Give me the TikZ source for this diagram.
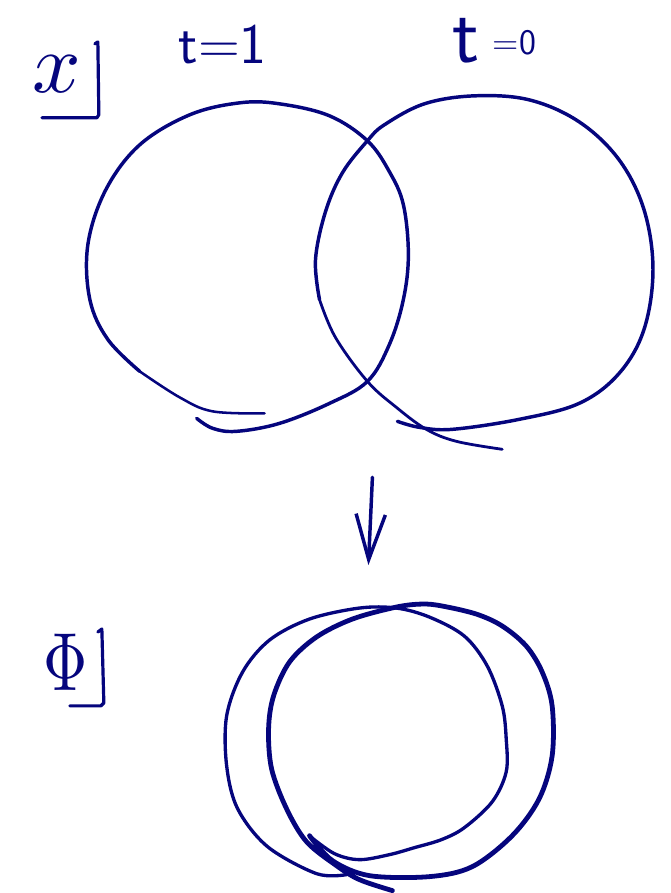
\documentclass[tikz,border=0pt]{standalone}
\usetikzlibrary{arrows.meta}
\definecolor{ink}{RGB}{5,5,125}
\begin{document}
\begin{tikzpicture}[x=0.75pt,y=-0.75pt,
  pen/.style={draw=ink,line cap=round,line join=round,line width=#1},
  pen/.default=2.6pt,
  lab/.style={text=ink,inner sep=0pt,outer sep=0pt}]
\path (0,0) rectangle (672,893);
% labels
\node[lab] (xlab) at (57,74) {\scalebox{6.4}{$x$}};
\node[lab,font=\sffamily\fontsize{43}{43}\selectfont,anchor=base] (tone) at (223,64) {t=1};
\node[lab,anchor=base] (tzero) at (495,63) {\sffamily\fontsize{60}{60}\selectfont t\hspace{10pt}\fontsize{27}{27}\selectfont\raisebox{6pt}{=0}};
\node[lab] (philab) at (66,663) {\scalebox{4.6}[6.2]{$\Phi$}};
% corners
\draw[pen=2.4pt] (95,44) -- (98,42) -- (99,115) -- (97,118) -- (42,118);
\draw[pen=2.4pt] (98,633) -- (102,630) -- (104,704) -- (101,707) -- (70,707);
% upper left circle (t=1)
\draw[pen] plot[smooth,tension=0.6] coordinates {(197,419) (213,429) (237,432) (280,424) (330,404) (368,382) (390,345) (404,300) (409,255) (404,205) (390,172) (368,141) (330,116) (280,104) (240,103) (190,115) (140,145) (106,190) (88,245) (90,300) (108,340) (140,372)};
\draw[pen=1.9pt] plot[smooth,tension=0.6] coordinates {(140,372) (180,398) (213,412) (265,414)};
% upper right circle (t=0)
\draw[pen] plot[smooth,tension=0.6] coordinates {(398,422) (420,428) (453,430) (520,420) (580,404) (620,374) (645,330) (654,270) (645,210) (620,160) (580,122) (530,100) (475,96) (425,104) (385,125) (368,141) (343,173) (326,212) (316,260) (320,300)};
\draw[pen=2.1pt] plot[smooth,tension=0.6] coordinates {(320,300) (336,338) (368,382) (397,408) (427,430) (457,442) (503,450)};
% arrow
\coordinate (arrtop) at (373,478);
\coordinate (arrtip) at (369,566);
\draw[pen=2.6pt,-{Straight Barb[length=34pt,width=22pt,line width=2.6pt]}] (arrtop) -- (arrtip);
% lower circles: thinner stroke
\draw[pen=2.5pt] plot[smooth,tension=0.55] coordinates {(311,838) (335,855) (360,861) (390,856) (415,849) (442,841) (465,829) (493,803) (507,773) (507,740) (503,707) (488,667) (465,637) (430,618) (397,609) (360,609) (310,620) (270,641) (243,673) (227,717) (227,767) (238,810) (268,848) (317,875) (347,876)};
% lower circles: thick stroke
\draw[pen=3.6pt] plot[smooth,tension=0.55] coordinates {(310,837) (333,862) (370,877) (430,878) (473,868) (513,837) (540,800) (553,757) (553,707) (543,673) (527,647) (503,627) (477,615) (443,607) (423,605) (397,608) (353,620) (317,638) (290,663) (274,697) (269,730) (272,770) (287,810) (307,843) (337,867) (360,881) (393,892)};
\end{tikzpicture}
\end{document}
